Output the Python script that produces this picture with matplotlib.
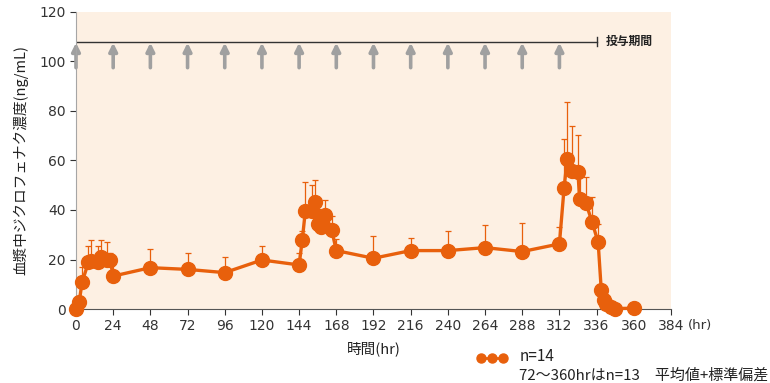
import numpy as np
import matplotlib.pyplot as plt
from matplotlib.lines import Line2D

plt.rcParams['font.family'] = ['DejaVu Sans', 'Noto Sans CJK JP']

# time after first dose (hr), mean concentration (ng/mL), SD
hours = [0, 2, 4, 8, 10, 14, 16, 20, 22, 24,
         48, 72, 96, 120,
         144, 146, 148, 152, 154, 156, 158, 161, 165, 168,
         192, 216, 240, 264, 288,
         312, 315, 317, 320, 324, 325, 329, 333, 337, 339, 340.5, 342, 345, 348, 360]
conc = [0, 2.7, 11, 18.8, 19.5, 18.8, 21, 20, 19.8, 13.3,
        16.7, 16.0, 14.7, 19.8,
        17.8, 27.7, 39.5, 39.7, 43.2, 34.5, 33.3, 37.9, 32.0, 23.6,
        20.5, 23.6, 23.6, 24.8, 23.2,
        26.3, 48.8, 60.6, 55.8, 55.2, 44.3, 43.0, 35.3, 26.9, 7.7, 3.6, 2.0, 0.7, 0.2, 0.3]
sd = [0, 1.0, 6, 6.5, 8.5, 6.5, 7, 7, 3, 5.3,
      7.4, 6.7, 6.4, 5.5,
      5, 4, 11.8, 10.2, 9, 6, 5, 6.2, 5.4, 4.5,
      9, 5.2, 8, 9, 11.4,
      7, 19.8, 23.2, 18, 15.1, 9.8, 10.5, 9.8, 7.3, 0, 0, 0, 0, 0, 0]

dose_times = list(range(0, 313, 24))
x_ticks = list(range(0, 385, 24))
y_ticks = list(range(0, 121, 20))

orange = '#E8600C'
grey = '#A0A0A0'
jp = ['Noto Sans CJK JP', 'DejaVu Sans']

fig = plt.figure(figsize=(7.7, 3.83), dpi=100)
ax = fig.add_axes([0.0987, 0.1932, 0.7727, 0.7755])
ax.set_facecolor('#FDF0E3')

# upper error bars only (mean + SD)
ax.errorbar(hours, conc, yerr=[np.zeros(len(sd)), sd], fmt='none',
            ecolor=orange, elinewidth=0.9, capsize=2.2, capthick=0.9, zorder=3)
ax.plot(hours, conc, color=orange, lw=2.4, marker='o', markersize=10,
        markeredgecolor=orange, clip_on=False, zorder=4)

# dosing arrows and dosing period bar
for t in dose_times:
    ax.annotate('', xy=(t, 107.6), xytext=(t, 97.5),
                arrowprops=dict(arrowstyle='-|>', color=grey, lw=2.6,
                                mutation_scale=12, shrinkA=0, shrinkB=0),
                annotation_clip=False, zorder=2)
ax.plot([0, 336], [108, 108], color='#333333', lw=1.0, zorder=2)
ax.plot([336, 336], [106.3, 109.7], color='#333333', lw=1.0, zorder=2)
ax.text(342, 108, '投与期間', fontsize=8.5, fontweight='bold',
        va='center', ha='left', color='#222222', family=jp)

ax.set_xlim(0, 384)
ax.set_ylim(0, 120)
ax.set_xticks(x_ticks)
ax.set_yticks(y_ticks)
ax.tick_params(axis='both', labelsize=10, colors='#333333', length=4, width=0.8)
ax.tick_params(axis='x', pad=3)
for s in ['top', 'right']:
    ax.spines[s].set_visible(False)
ax.spines['left'].set_color('#A6A6A6')
ax.spines['bottom'].set_color('#555555')

ax.annotate('(hr)', xy=(384, 0), xytext=(12, -12), textcoords='offset points',
            fontsize=9.5, color='#333333', va='center', ha='left',
            annotation_clip=False)

ax.set_ylabel('血漿中ジクロフェナク濃度(ng/mL)', fontsize=10.5, color='#222222',
              labelpad=8, family=jp)
ax.set_xlabel('時間(hr)', fontsize=10.5, color='#222222', labelpad=6, family=jp)

# legend drawn by hand: marker sample next to the first line of text
fig.add_artist(Line2D([0.6247, 0.6390, 0.6532], [0.0653] * 3, color=orange, lw=2,
                      marker='o', markersize=6.5, transform=fig.transFigure))
fig.text(0.675, 0.068, 'n=14', fontsize=11, color='#222222', va='center', family=jp)
fig.text(0.674, 0.021, '72～360hrはn=13　平均値+標準偏差', fontsize=10.8,
         color='#222222', va='center', family=jp)

fig.savefig('out.png', dpi=100)
